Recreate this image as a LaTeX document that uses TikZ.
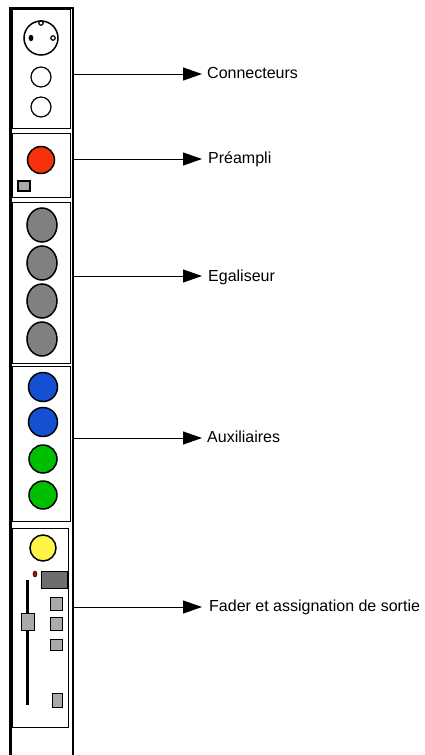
\documentclass[tikz,border=0pt]{standalone}
\usepackage{fontspec}
\setmainfont{Liberation Sans}
\usetikzlibrary{arrows.meta,shapes.geometric}
\definecolor{knobred}{RGB}{245,50,10}
\definecolor{knobgray}{RGB}{128,128,128}
\definecolor{knobblue}{RGB}{20,80,210}
\definecolor{knobgreen}{RGB}{0,190,0}
\definecolor{knobyellow}{RGB}{255,245,70}
\definecolor{btngray}{RGB}{170,170,170}
\definecolor{dispgray}{RGB}{110,110,110}
\definecolor{ledred}{RGB}{170,20,0}
\begin{document}
\begin{tikzpicture}[x=1pt,y=-1pt,
  panel/.style={draw=black, line width=1pt, fill=white, rectangle, inner sep=0pt, outer sep=0pt, anchor=north west},
  knob/.style={draw=black, line width=1.5pt, ellipse, inner sep=0pt, minimum width=#1, minimum height=#1},
  knob/.default=28pt,
  eqknob/.style={draw=black, line width=1.5pt, ellipse, inner sep=0pt, minimum width=30pt, minimum height=34pt, fill=knobgray},
  hole/.style={draw=black, line width=1.2pt, circle, inner sep=0pt, minimum size=#1},
  btn/.style={draw=black, line width=1.2pt, fill=btngray, rectangle, inner sep=0pt},
  callout/.style={-{Triangle[length=19pt,width=13pt]}, line width=1pt},
  tag/.style={anchor=base west, inner sep=0pt, font=\fontsize{16}{19}\selectfont}
]
\useasboundingbox (0,0) rectangle (424,755);

% channel strip outline
\draw[line width=2.5pt] (10.5,755) -- (10.5,8) -- (73,8) -- (73,755);

% section panels
\node[panel, minimum width=58pt, minimum height=119pt] (b1) at (12,9) {};
\node[panel, minimum width=58pt, minimum height=64pt]  (b2) at (12,133) {};
\node[panel, minimum width=58pt, minimum height=161pt] (b3) at (12,202) {};
\node[panel, minimum width=58pt, minimum height=155pt] (b4) at (12,366) {};
\node[panel, minimum width=56pt, minimum height=199pt] (b5) at (12,528) {};

% input connectors
\node[hole=34pt, line width=1.5pt] (xlr) at (41,38) {};
\node[hole=4.5pt] (pin1) at (41,23) {};
\node[hole=3.5pt, fill=black, ellipse, minimum width=3.5pt, minimum height=5pt] (pin2) at (31,38) {};
\node[hole=4.5pt] (pin3) at (53,38) {};
\node[hole=20pt] (jack1) at (41,77) {};
\node[hole=20pt] (jack2) at (41,107) {};

% preamp
\node[knob=27pt, fill=knobred] (gain) at (41,160) {};
\node[btn, minimum width=12pt, minimum height=10pt] (pad) at (24,186) {};

% equaliser
\node[eqknob] (eq1) at (42,225) {};
\node[eqknob] (eq2) at (42,263) {};
\node[eqknob] (eq3) at (42,301) {};
\node[eqknob] (eq4) at (42,339) {};

% auxiliary sends
\node[knob=29pt, fill=knobblue]  (aux1) at (43,387) {};
\node[knob=29pt, fill=knobblue]  (aux2) at (43,422) {};
\node[knob=28pt, fill=knobgreen] (aux3) at (43,459) {};
\node[knob=28pt, fill=knobgreen] (aux4) at (43,495) {};

% fader and output routing
\node[knob=26pt, fill=knobyellow] (pan) at (43,548) {};
\node[draw=black, line width=0.5pt, fill=ledred, ellipse, inner sep=0pt, minimum width=4pt, minimum height=6pt] (led) at (35,574) {};
\node[btn, fill=dispgray, minimum width=26pt, minimum height=17pt, anchor=north west] (disp) at (41,571) {};
\draw[line width=3pt] (27,580) -- (27,705);
\node[btn, minimum width=13pt, minimum height=17pt, anchor=north west] (cap) at (21,613) {};
\node[btn, minimum width=12pt, minimum height=13pt, anchor=north west] (sw1) at (50,597) {};
\node[btn, minimum width=12pt, minimum height=13pt, anchor=north west] (sw2) at (50,617) {};
\node[btn, minimum width=12pt, minimum height=11pt, anchor=north west] (sw3) at (50,639) {};
\node[btn, minimum width=10pt, minimum height=14pt, anchor=north west] (sw4) at (52,693) {};

% labels and callouts
\node[tag] (l1) at (207,78)  {Connecteurs};
\node[tag] (l2) at (208,163) {Préampli};
\node[tag] (l3) at (208,281) {Egaliseur};
\node[tag] (l4) at (207,442) {Auxiliaires};
\node[tag] (l5) at (209,611) {Fader et assignation de sortie};

\coordinate (a1) at (73,74);
\coordinate (a2) at (73,159);
\coordinate (a3) at (73,276);
\coordinate (a4) at (73,438);
\coordinate (a5) at (73,607);

\draw[callout] (a1) -- ([xshift=-5pt]a1 -| l1.west);
\draw[callout] (a2) -- ([xshift=-6pt]a2 -| l2.west);
\draw[callout] (a3) -- ([xshift=-6pt]a3 -| l3.west);
\draw[callout] (a4) -- ([xshift=-5pt]a4 -| l4.west);
\draw[callout] (a5) -- ([xshift=-7pt]a5 -| l5.west);
\end{tikzpicture}
\end{document}
